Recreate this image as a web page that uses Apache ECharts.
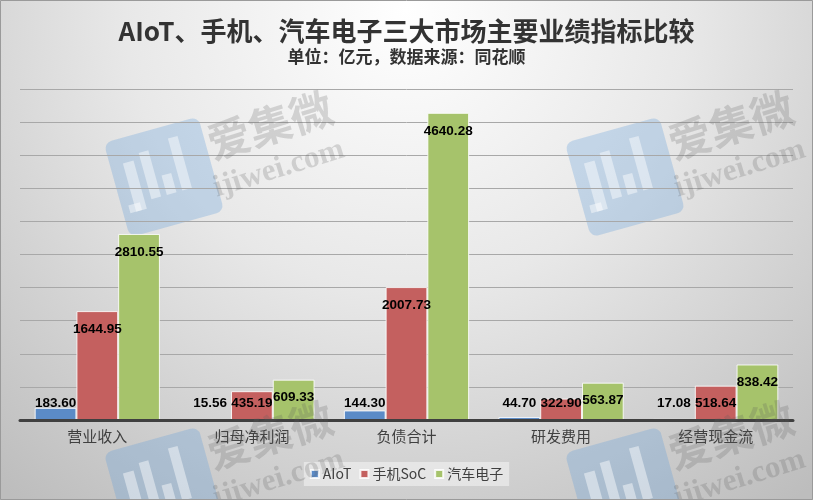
<!DOCTYPE html>
<html>
<head>
<meta charset="utf-8">
<script src="https://cdn.jsdelivr.net/npm/echarts@6/dist/echarts.min.js"></script>
<style>html,body{margin:0;padding:0;}#c{width:813px;height:500px;}</style>
</head>
<body>
<div id="c"></div>
<script>
const categories = ['营业收入', '归母净利润', '负债合计', '研发费用', '经营现金流'];
const seriesNames = ['AIoT', '手机SoC', '汽车电子'];
const aiotValues = [183.60, 15.56, 144.30, 44.70, 17.08];
const phoneValues = [1644.95, 435.19, 2007.73, 322.90, 518.64];
const autoValues = [2810.55, 609.33, 4640.28, 563.87, 838.42];

const colors = ['#5B8BC7', '#C4605F', '#A6C36B'];
const yMax = 5000;
const gridTop = 89, gridBottom = 80;
const plotH = 500 - gridTop - gridBottom;

function items(vals) {
  return vals.map(v => {
    const h = v / yMax * plotH;
    const inside = h >= 35.5;
    return {
      value: v,
      label: inside ? { position: 'insideTop', distance: 11 } : { position: 'insideBottom', distance: 10 }
    };
  });
}

function mark(cx, cy) {
  const wf = 'rgba(255,255,255,0.45)';
  return [
    {
      type: 'group', x: cx, y: cy, rotation: 0.27, z: 100, silent: true,
      children: [
        { type: 'rect', shape: { x: -49, y: -49, width: 98, height: 98, r: 8 }, style: { fill: 'rgba(100,160,220,0.3)' } },
        { type: 'rect', shape: { x: -36, y: -24, width: 11, height: 50 }, style: { fill: wf } },
        { type: 'rect', shape: { x: -42, y: 18, width: 12, height: 8 }, style: { fill: wf } },
        { type: 'rect', shape: { x: -18, y: -30, width: 10, height: 48 }, style: { fill: wf } },
        { type: 'rect', shape: { x: -2, y: -2, width: 10, height: 20 }, style: { fill: wf } },
        { type: 'rect', shape: { x: 14, y: -36, width: 10, height: 54 }, style: { fill: wf } }
      ]
    },
    {
      type: 'text', x: cx + 106, y: cy - 52, rotation: 0.3, z: 100, silent: true,
      style: { text: '爱集微', font: 'bold 43px "Noto Sans CJK SC"', fill: 'rgba(90,90,90,0.22)', align: 'center', verticalAlign: 'middle' }
    },
    {
      type: 'text', x: cx + 115, y: cy - 8, rotation: 0.3, z: 100, silent: true,
      style: { text: 'ijiwei.com', font: 'bold 31px "Liberation Serif"', fill: 'rgba(90,90,90,0.22)', align: 'center', verticalAlign: 'middle' }
    }
  ];
}

const chart = echarts.init(document.getElementById('c'), null, { renderer: 'canvas' });

const labelStyle = {
  show: true,
  color: '#000',
  fontWeight: 'bold',
  fontSize: 13.5,
  fontFamily: '"Liberation Sans", Arial, sans-serif',
  formatter: p => p.value.toFixed(2)
};

const mkSeries = (name, vals, i) => ({
  name: name,
  type: 'bar',
  data: items(vals),
  barGap: '0%',
  barCategoryGap: '19%',
  itemStyle: { color: colors[i], borderColor: 'rgba(255,255,255,0.85)', borderWidth: 1 },
  label: labelStyle,
  z: 2
});

chart.setOption({
  animation: false,
  backgroundColor: {
    type: 'radial', x: 0.5, y: 0.02, r: 1.25,
    colorStops: [
      { offset: 0, color: '#ffffff' },
      { offset: 0.45, color: '#e8e8e8' },
      { offset: 1, color: '#bdbdbd' }
    ]
  },
  title: {
    text: 'AIoT、手机、汽车电子三大市场主要业绩指标比较',
    subtext: '单位：亿元，数据来源：同花顺',
    left: 'center',
    top: 13,
    itemGap: 4,
    textStyle: { fontSize: 26, fontWeight: 'bold', color: '#333', fontFamily: '"Noto Sans CJK SC", sans-serif' },
    subtextStyle: { fontSize: 17, fontWeight: 'bold', color: '#333', fontFamily: '"Noto Sans CJK SC", sans-serif' }
  },
  legend: {
    data: seriesNames,
    left: 'center',
    top: 462,
    icon: 'rect',
    itemWidth: 8,
    itemHeight: 8,
    itemGap: 8,
    padding: [5, 6],
    backgroundColor: 'rgba(245,245,245,0.55)',
    textStyle: { fontSize: 14, color: '#404040', fontFamily: '"Noto Sans CJK SC", sans-serif', padding: [0, 0, 0, -1] }
  },
  grid: { left: 20, right: 20, top: gridTop, bottom: gridBottom, containLabel: false },
  xAxis: {
    type: 'category',
    data: categories,
    axisLine: { show: true, lineStyle: { color: '#404040', width: 3 } },
    axisTick: { show: false },
    axisLabel: { color: '#404040', fontSize: 15, margin: 9, fontFamily: '"Noto Sans CJK SC", sans-serif' },
    z: 5
  },
  yAxis: {
    type: 'value',
    min: 0,
    max: yMax,
    interval: 500,
    axisLabel: { show: false },
    axisLine: { show: false },
    axisTick: { show: false },
    splitLine: { show: true, lineStyle: { color: '#a8a8a8', width: 1 } }
  },
  series: [
    mkSeries(seriesNames[0], aiotValues, 0),
    mkSeries(seriesNames[1], phoneValues, 1),
    mkSeries(seriesNames[2], autoValues, 2)
  ],
  graphic: [].concat(
    mark(164, 177), mark(625, 177), mark(164, 487), mark(625, 487),
    [{ type: 'rect', shape: { x: 0.5, y: 0.5, width: 812, height: 499 }, style: { fill: 'none', stroke: '#9a9a9a', lineWidth: 1 }, z: 101, silent: true }]
  )
});
</script>
</body>
</html>
